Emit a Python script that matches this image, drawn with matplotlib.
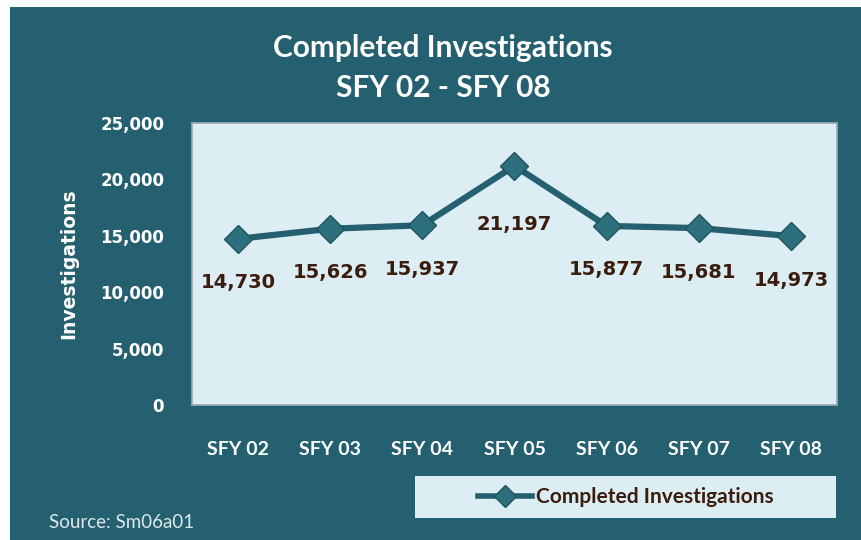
import matplotlib.pyplot as plt
from matplotlib.patches import Rectangle
from matplotlib.lines import Line2D

# chart data
years = ['SFY 02', 'SFY 03', 'SFY 04', 'SFY 05', 'SFY 06', 'SFY 07', 'SFY 08']
investigations = [14730, 15626, 15937, 21197, 15877, 15681, 14973]
y_ticks = [0, 5000, 10000, 15000, 20000, 25000]

TEAL = '#24606f'
PANEL = '#dcedf3'
LABEL = '#3a1d0c'
TITLE_FONT = ['Lato', 'DejaVu Sans']

fig = plt.figure(figsize=(8.62, 5.40), dpi=100, facecolor='white')

# teal card behind everything
fig.patches.append(Rectangle((10 / 862, 0), 1, 1 - 7 / 540, transform=fig.transFigure,
                             facecolor=TEAL, edgecolor='none', zorder=-10))
# legend panel
fig.patches.append(Rectangle((415 / 862, 1 - 518 / 540), (836 - 415) / 862, 42 / 540,
                             transform=fig.transFigure, facecolor=PANEL,
                             edgecolor='none', zorder=-5))

ax = fig.add_axes([192 / 862, 1 - 405 / 540, (837 - 192) / 862, (405 - 123) / 540])
ax.set_facecolor(PANEL)
for side in ax.spines.values():
    side.set_color('#9aaab0')
    side.set_linewidth(1.2)

x = range(len(years))
ax.plot(x, investigations, color=TEAL, lw=4.5, marker='D', markersize=14,
        markerfacecolor='#2e6f7e', markeredgecolor='#1d5360', zorder=3)

for xi, v in zip(x, investigations):
    dy = -59 if v > 20000 else -44
    ax.annotate(f'{v:,}', (xi, v), xytext=(0, dy), textcoords='offset pixels',
                ha='center', va='center', fontsize=14, fontweight='heavy',
                color=LABEL, family='DejaVu Sans')

ax.set_xlim(-0.5, len(years) - 0.5)
ax.set_ylim(0, 25000)
ax.set_xticks(list(x))
ax.set_xticklabels(years, family=TITLE_FONT, fontweight='bold', fontsize=14, color='white')
ax.set_yticks(y_ticks)
ax.set_yticklabels([f'{t:,}' for t in y_ticks], family='DejaVu Sans', fontweight='bold',
                   fontsize=12, color='white')
ax.tick_params(length=0, axis='x', pad=26)
ax.tick_params(length=0, axis='y', pad=20)

ax.set_ylabel('Investigations', family='DejaVu Sans', fontweight='bold', fontsize=13.5,
              color='white', labelpad=16)

fig.text(443 / 862, 1 - 48 / 540, 'Completed Investigations', ha='center', va='center',
         family=TITLE_FONT, fontweight='bold', fontsize=21.5, color='white')
fig.text(443 / 862, 1 - 88 / 540, 'SFY 02 - SFY 08', ha='center', va='center',
         family=TITLE_FONT, fontweight='bold', fontsize=21.5, color='white')

fig.text(49 / 862, 1 - 522 / 540, 'Source: Sm06a01', ha='left', va='center',
         family=TITLE_FONT, fontsize=13.5, color='#dce9ec')

# legend entry
handle = Line2D([], [], color=TEAL, lw=4, marker='D', markersize=11,
                markerfacecolor='#2e6f7e', markeredgecolor='#1d5360')
leg = fig.legend([handle], ['Completed Investigations'], loc='center',
                 bbox_to_anchor=(626 / 862, 1 - 497 / 540), frameon=False,
                 prop={'family': TITLE_FONT, 'weight': 'bold', 'size': 15},
                 handlelength=2.6, handletextpad=0.2)
for t in leg.get_texts():
    t.set_color(LABEL)

fig.savefig('out.png', dpi=100, facecolor=fig.get_facecolor())
